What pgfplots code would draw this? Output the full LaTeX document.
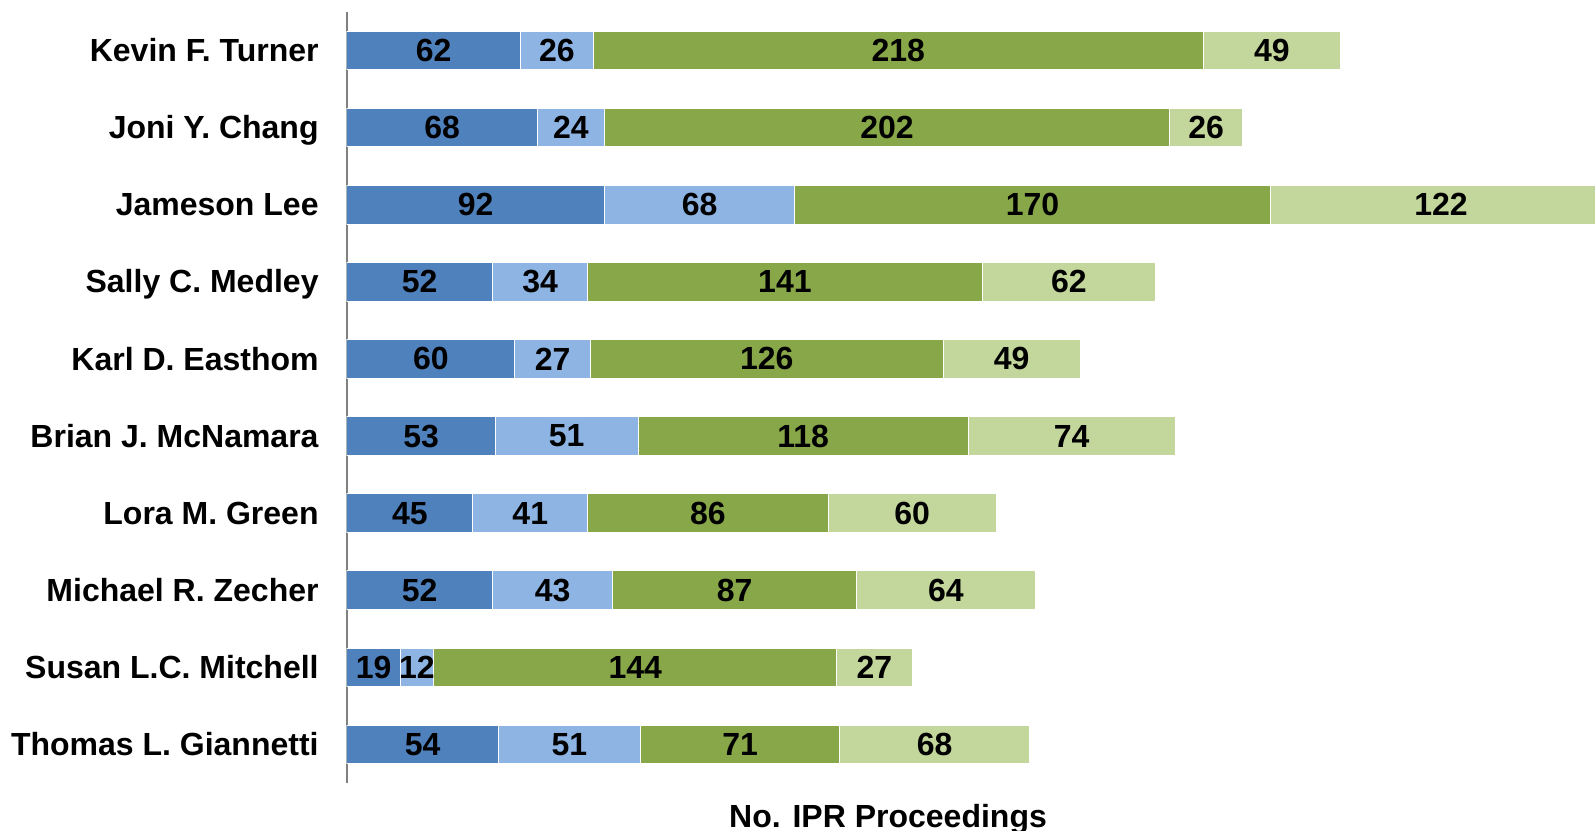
\documentclass[border=0pt]{standalone}
\usepackage{fontspec}
\setmainfont{Liberation Sans}
\usepackage{pgfplots}
\usepackage{pgfplotstable}
\pgfplotsset{compat=1.18}

\definecolor{cA}{HTML}{4F81BD}
\definecolor{cB}{HTML}{8EB4E3}
\definecolor{cC}{HTML}{88A748}
\definecolor{cD}{HTML}{C3D69B}

% judge, then counts per series (a, b, c, d)
\pgfplotstableread[col sep=comma]{
idx,name,a,b,c,d
0,Kevin F. Turner,62,26,218,49
1,Joni Y. Chang,68,24,202,26
2,Jameson Lee,92,68,170,122
3,Sally C. Medley,52,34,141,62
4,Karl D. Easthom,60,27,126,49
5,Brian J. McNamara,53,51,118,74
6,Lora M. Green,45,41,86,60
7,Michael R. Zecher,52,43,87,64
8,Susan L.C. Mitchell,19,12,144,27
9,Thomas L. Giannetti,54,51,71,68
}\data

\begin{document}
\begin{tikzpicture}[font=\fontsize{16bp}{19bp}\selectfont\bfseries]
\begin{axis}[
    scale only axis,
    width=624bp, height=385.5bp,
    xmin=0, xmax=446,
    ymin=-0.5, ymax=9.5,
    y dir=reverse,
    axis x line=none,
    axis y line*=left,
    y axis line style={draw=black!50, line width=0.8bp},
    ytick={0,...,9},
    yticklabels from table={\data}{name},
    major tick length=0pt,
    yticklabel style={inner sep=0pt, xshift=-14bp, yshift=-1.5bp, anchor=east,
      text height=11.5bp, text depth=3.4bp},
    bar width=0.5, bar shift=0pt,
    every node near coord/.style={anchor=center, text=black},
  ]
  \addplot[xbar, fill=cD, draw=white, line width=0.5bp]
    table[x expr=\thisrow{a}+\thisrow{b}+\thisrow{c}+\thisrow{d}, y=idx] {\data};
  \addplot[xbar, fill=cC, draw=white, line width=0.5bp]
    table[x expr=\thisrow{a}+\thisrow{b}+\thisrow{c}, y=idx] {\data};
  \addplot[xbar, fill=cB, draw=white, line width=0.5bp]
    table[x expr=\thisrow{a}+\thisrow{b}, y=idx] {\data};
  \addplot[xbar, fill=cA, draw=white, line width=0.5bp]
    table[x=a, y=idx] {\data};

  % value labels, centred in each segment
  \addplot[draw=none, mark=none, nodes near coords, point meta=explicit symbolic]
    table[x expr=\thisrow{a}/2, y=idx, meta=a] {\data};
  \addplot[draw=none, mark=none, nodes near coords, point meta=explicit symbolic]
    table[x expr=\thisrow{a}+\thisrow{b}/2, y=idx, meta=b] {\data};
  \addplot[draw=none, mark=none, nodes near coords, point meta=explicit symbolic]
    table[x expr=\thisrow{a}+\thisrow{b}+\thisrow{c}/2, y=idx, meta=c] {\data};
  \addplot[draw=none, mark=none, nodes near coords, point meta=explicit symbolic]
    table[x expr=\thisrow{a}+\thisrow{b}+\thisrow{c}+\thisrow{d}/2, y=idx, meta=d] {\data};
\end{axis}
\node[anchor=base] at ([xshift=270.5bp, yshift=-22bp]current axis.south west) {No. IPR Proceedings};
\pgfresetboundingbox
\path[use as bounding box] ([xshift=-173.5bp, yshift=-24bp]current axis.south west)
  rectangle ([yshift=6bp]current axis.north east);
\end{tikzpicture}
\end{document}
